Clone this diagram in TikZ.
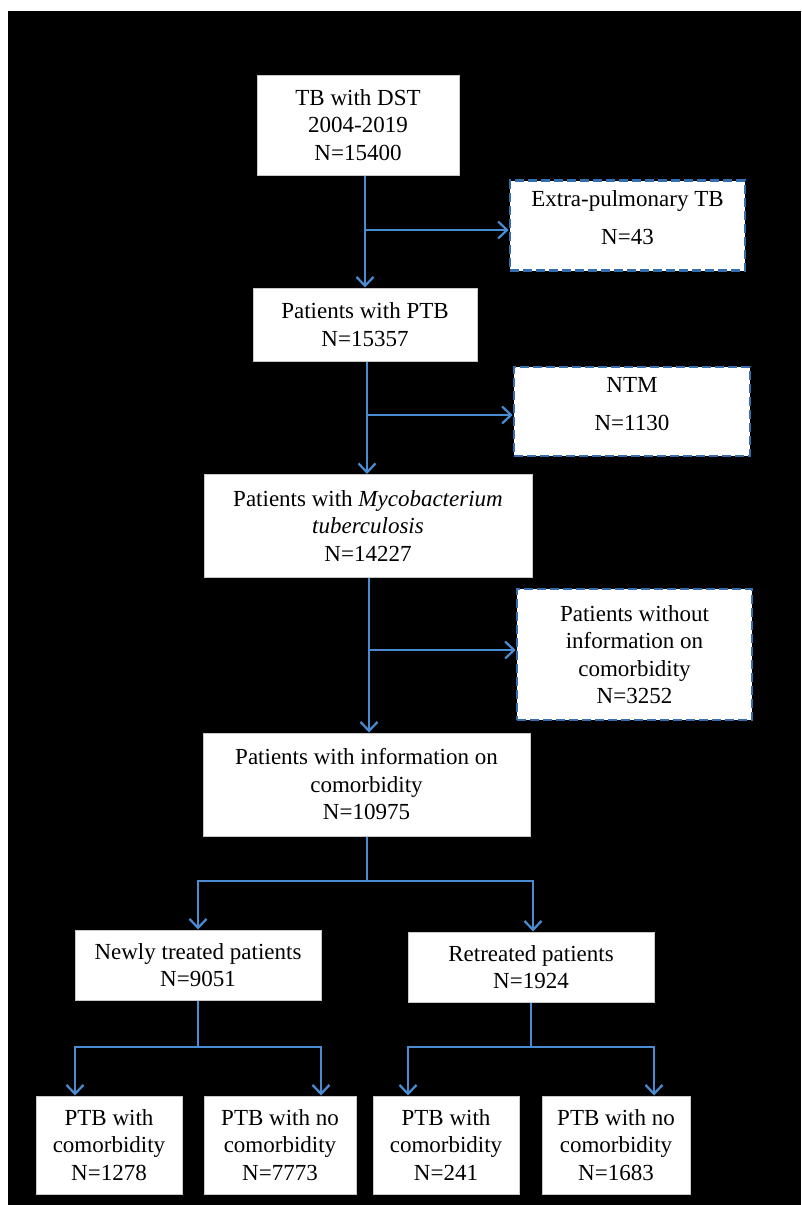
\documentclass[tikz,border=0pt]{standalone}
\usepackage{fontspec}
\setmainfont{Liberation Serif}
\usetikzlibrary{arrows.meta}
\definecolor{lnblue}{RGB}{74,140,210}
\definecolor{dblue}{RGB}{52,110,175}
\definecolor{boxgray}{RGB}{200,200,200}
\begin{document}
\begin{tikzpicture}[x=1pt,y=-1pt,
  every node/.style={font=\fontsize{23}{27.5}\selectfont, align=center, inner sep=0pt},
  sbox/.style={draw=boxgray, line width=1pt, fill=white},
  dbox/.style={draw=dblue, line width=2.6pt, fill=white, dash pattern=on 9pt off 4pt},
  ln/.style={draw=lnblue, line width=2.5pt},
  arr/.style={ln, -{Straight Barb[length=9pt,width=17pt,line width=2.2pt]}},
  txt/.style={fill=none, draw=none}
]
\useasboundingbox (0,0) rectangle (801,1205);
\fill[white] (0,0) rectangle (801,1205);
\fill[black] (8,11) rectangle (801,1205);

% main column
\node[sbox, minimum width=202pt, minimum height=100pt] (b1) at (358,125) {TB with DST\\2004-2019\\N=15400};
\node[sbox, minimum width=224pt, minimum height=73pt] (b2) at (365,324.5) {Patients with PTB\\N=15357};
\node[sbox, minimum width=328pt, minimum height=103pt] (b3) at (368,526) {Patients with \textit{Mycobacterium}\\\textit{tuberculosis}\\N=14227};
\node[sbox, minimum width=327pt, minimum height=103pt] (b4) at (366.5,784.5) {Patients with information on\\comorbidity\\N=10975};

% excluded boxes
\node[dbox, minimum width=235pt, minimum height=90pt] (ep) at (627.5,225.5) {};
\node[txt] (ept) at (627.5,217.5) {Extra-pulmonary TB\\[10pt]N=43};
\node[dbox, minimum width=236pt, minimum height=89pt] (ntm) at (632,411.5) {};
\node[txt] (ntmt) at (632,404) {NTM\\[10pt]N=1130};
\node[dbox, minimum width=235pt, minimum height=131pt] (wo) at (634.5,654.5) {Patients without\\information on\\comorbidity\\N=3252};

% second level
\node[sbox, minimum width=246pt, minimum height=70pt] (nt) at (198,965) {Newly treated patients\\N=9051};
\node[sbox, minimum width=246pt, minimum height=70pt] (rt) at (531,967) {Retreated patients\\N=1924};

% bottom level
\node[sbox, minimum width=146pt, minimum height=98pt] (c1) at (109,1145) {PTB with\\comorbidity\\N=1278};
\node[sbox, minimum width=152pt, minimum height=98pt] (c2) at (280,1145) {PTB with no\\comorbidity\\N=7773};
\node[sbox, minimum width=146pt, minimum height=98pt] (c3) at (446,1145) {PTB with\\comorbidity\\N=241};
\node[sbox, minimum width=148pt, minimum height=98pt] (c4) at (616,1145) {PTB with no\\comorbidity\\N=1683};

% connectors main column
\coordinate (j1) at (365,230);
\draw[arr] (b1.south -| j1) -- (b2.north -| j1);
\draw[arr] (j1) -- (j1 -| ep.west);

\coordinate (j2) at (367,415);
\draw[arr] (b2.south -| j2) -- (b3.north -| j2);
\draw[arr] (j2) -- (j2 -| ntm.west);

\coordinate (j3) at (369,650);
\draw[arr] (b3.south -| j3) -- (b4.north -| j3);
\draw[arr] (j3) -- (j3 -| wo.west);

% split into newly / retreated
\coordinate (s1) at (367,881);
\coordinate (s1l) at (198,881);
\coordinate (s1r) at (533,881);
\draw[ln] (b4.south -| s1) -- (s1);
\draw[arr] (s1) -- (s1l) -- (nt.north -| s1l);
\draw[arr] (s1) -- (s1r) -- (rt.north -| s1r);

% newly split
\coordinate (s2) at (198,1047);
\coordinate (s2l) at (75,1047);
\coordinate (s2r) at (321,1047);
\draw[ln] (nt.south -| s2) -- (s2);
\draw[arr] (s2) -- (s2l) -- (c1.north -| s2l);
\draw[arr] (s2) -- (s2r) -- (c2.north -| s2r);

% retreated split
\coordinate (s3) at (531,1047);
\coordinate (s3l) at (408,1047);
\coordinate (s3r) at (654,1047);
\draw[ln] (rt.south -| s3) -- (s3);
\draw[arr] (s3) -- (s3l) -- (c3.north -| s3l);
\draw[arr] (s3) -- (s3r) -- (c4.north -| s3r);
\end{tikzpicture}
\end{document}
